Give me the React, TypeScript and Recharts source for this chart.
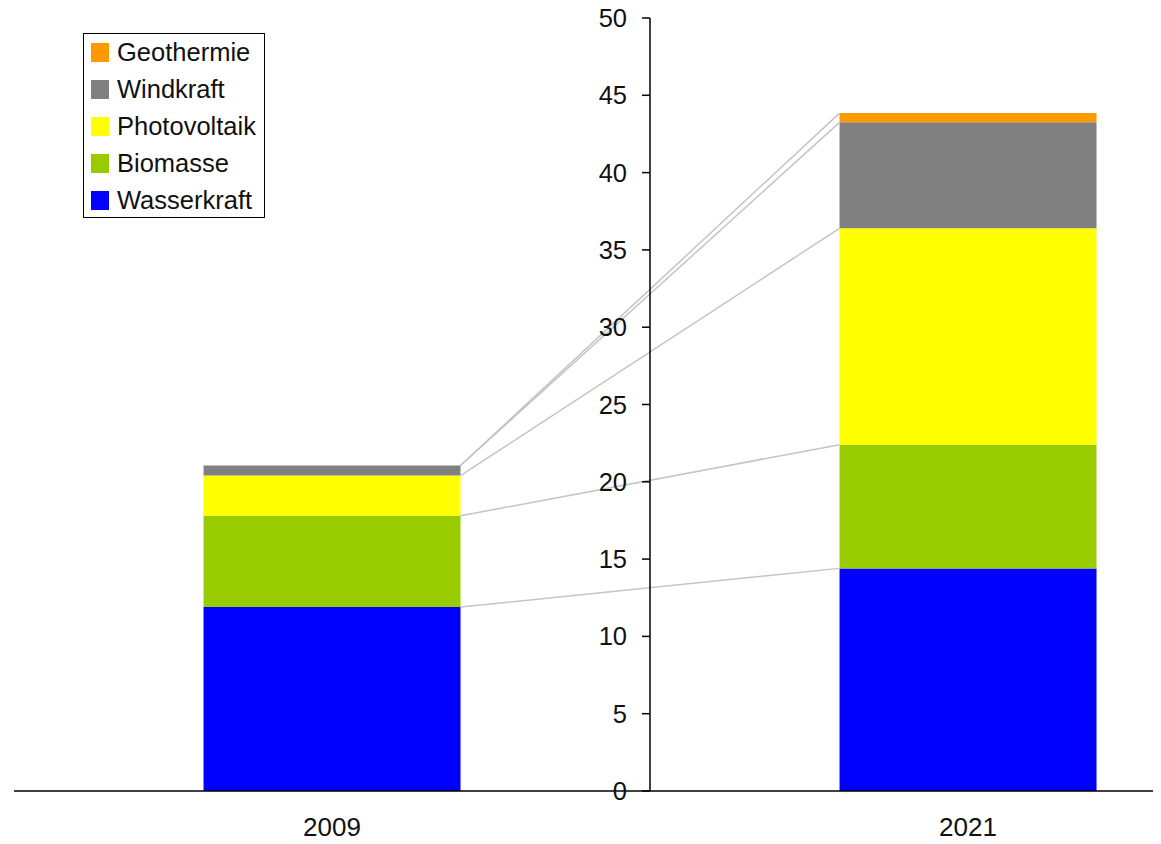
import { Bar, BarChart, Legend, ReferenceLine, ScatterChart, XAxis, YAxis } from "recharts";

const years = ["2009", "2021"];
const wasserkraft = [11.9, 14.4];
const biomasse = [5.9, 8.0];
const photovoltaik = [2.6, 14.0];
const windkraft = [0.65, 6.85];
const geothermie = [0, 0.6];
const yTicks = [0, 5, 10, 15, 20, 25, 30, 35, 40, 45, 50];

// stacking order bottom -> top
const series = [
  { key: "Wasserkraft", values: wasserkraft, color: "#0000ff" },
  { key: "Biomasse", values: biomasse, color: "#99cc00" },
  { key: "Photovoltaik", values: photovoltaik, color: "#ffff00" },
  { key: "Windkraft", values: windkraft, color: "#808080" },
  { key: "Geothermie", values: geothermie, color: "#ff9900" },
];

const data = years.map((year, i) => {
  const row: Record<string, string | number> = { year };
  series.forEach((s) => (row[s.key] = s.values[i]));
  return row;
});

// cumulative top of each series per year, for the connector lines
const tops = series.map((_, si) =>
  years.map((_, yi) => series.slice(0, si + 1).reduce((sum, s) => sum + s.values[yi], 0))
);

const GAP = 0.298;
const font = "'Liberation Sans', Arial, sans-serif";
const W = 1300;
const H = 844;
const M = { top: 18, right: 14, left: 14, bottom: 0 };
const XH = 53;

function LegendBox() {
  return (
    <div
      style={{
        boxSizing: "border-box",
        width: 182,
        height: 185,
        border: "1.5px solid #000",
        background: "#fff",
        padding: "0 0 0 7px",
        fontFamily: font,
        fontSize: 25.5,
        color: "#111",
      }}
    >
      {[...series].reverse().map((s) => (
        <div key={s.key} style={{ display: "flex", alignItems: "center", height: 37 }}>
          <span style={{ width: 18, height: 19, background: s.color, marginRight: 8, display: "inline-block" }} />
          <span>{s.key}</span>
        </div>
      ))}
    </div>
  );
}

export default function App() {
  return (
    <div style={{ position: "relative", width: 1161, height: H, overflow: "hidden", marginLeft: -8, marginTop: -8 }}>
      <BarChart width={W} height={H} data={data} margin={M} barCategoryGap={`${GAP * 100}%`}>
        <XAxis
          dataKey="year"
          height={XH}
          axisLine={false}
          tickLine={false}
          tickSize={10}
          tickMargin={17}
          tick={{ fill: "#111", fontSize: 26, fontFamily: font }}
        />
        <YAxis hide domain={[0, 50]} ticks={yTicks} />
        {series.map((s) => (
          <Bar key={s.key} dataKey={s.key} stackId="a" fill={s.color} isAnimationActive={false} />
        ))}
        <Legend
          layout="vertical"
          align="center"
          verticalAlign="middle"
          wrapperStyle={{ left: 83, top: 33, width: "auto" }}
          content={() => <LegendBox />}
        />
      </BarChart>

      {/* numeric overlay: axis line with ticks on category boundaries + connector lines */}
      <div style={{ position: "absolute", left: 0, top: 0, pointerEvents: "none" }}>
        <ScatterChart width={W} height={H} margin={M}>
          <XAxis
            type="number"
            dataKey="x"
            domain={[0, years.length]}
            allowDataOverflow
            ticks={years.map((_, i) => i).concat(years.length)}
            height={XH}
            tick={false}
            tickSize={8}
            axisLine={{ stroke: "#000", strokeWidth: 1.5 }}
            tickLine={{ stroke: "#000", strokeWidth: 1.5 }}
          />
          <YAxis hide type="number" dataKey="y" domain={[0, 50]} allowDataOverflow />
          {tops.map((t, i) => (
            <ReferenceLine
              key={series[i].key}
              ifOverflow="visible"
              segment={[
                { x: 1 - GAP, y: t[0] },
                { x: 1 + GAP, y: t[1] },
              ]}
              stroke="#c4c4c4"
              strokeWidth={1.5}
            />
          ))}
        </ScatterChart>
      </div>

      <div style={{ position: "absolute", left: 590, top: 0, pointerEvents: "none" }}>
        <BarChart width={120} height={H} data={data} margin={{ top: M.top, right: 0, left: 0, bottom: XH }}>
          <XAxis dataKey="year" hide />
          <YAxis
            width={60}
            domain={[0, 50]}
            ticks={yTicks}
            interval={0}
            tickSize={8}
            tickMargin={15}
            axisLine={{ stroke: "#000", strokeWidth: 1.5 }}
            tickLine={{ stroke: "#000", strokeWidth: 1.5 }}
            tick={{ fill: "#111", fontSize: 25.5, fontFamily: font }}
          />
          <Bar dataKey="Wasserkraft" fill="transparent" isAnimationActive={false} />
        </BarChart>
      </div>
    </div>
  );
}
